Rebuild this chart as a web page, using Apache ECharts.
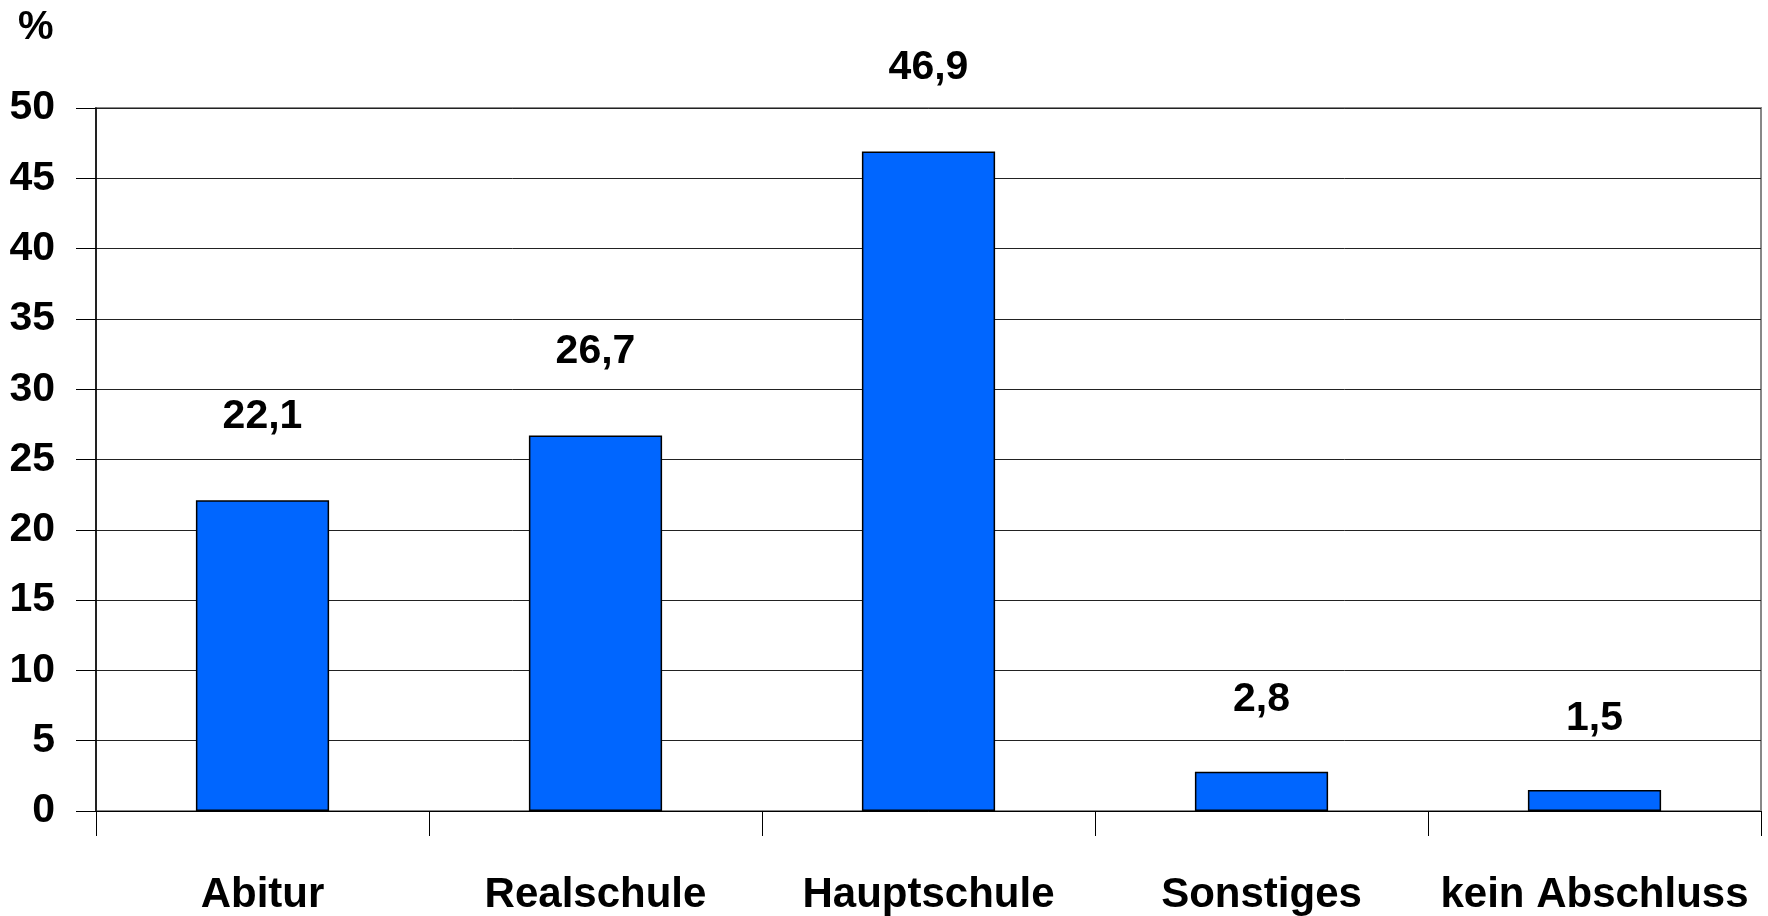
<!DOCTYPE html>
<html>
<head>
<meta charset="utf-8">
<script src="https://cdn.jsdelivr.net/npm/echarts@6/dist/echarts.min.js"></script>
<style>
html,body{margin:0;padding:0;background:#fff;}
#c{width:1768px;height:916px;}
</style>
</head>
<body>
<div id="c"></div>
<script>
const categories = ['Abitur', 'Realschule', 'Hauptschule', 'Sonstiges', 'kein Abschluss'];
const values = [22.1, 26.7, 46.9, 2.8, 1.5];
const unitLabel = '%';

// label gap above each bar (styling only)
const labelGaps = [63, 63, 63, 51, 51];

const FONT = '"Liberation Sans", Arial, sans-serif';
const FS = 41;
const chart = echarts.init(document.getElementById('c'));
chart.setOption({
  animation: false,
  backgroundColor: '#ffffff',
  grid: {left: 96, right: 7, top: 108, bottom: 104, show: true, borderColor: '#888888', borderWidth: 2, backgroundColor: 'transparent'},
  graphic: [{
    type: 'text', left: 18, top: 8,
    style: {text: unitLabel, font: 'bold 40px ' + FONT, fill: '#000'}
  }],
  xAxis: {
    type: 'category',
    data: categories,
    axisLine: {lineStyle: {color: '#000', width: 1}},
    axisTick: {show: true, interval: 0, length: 25, lineStyle: {color: '#000', width: 1}},
    axisLabel: {interval: 0, margin: 63, color: '#000', fontSize: 42, fontWeight: 'bold', fontFamily: FONT}
  },
  yAxis: {
    type: 'value', min: 0, max: 50, interval: 5,
    axisLine: {show: true, lineStyle: {color: '#000', width: 1.5}},
    axisTick: {show: true, length: 20, lineStyle: {color: '#000', width: 1}},
    axisLabel: {margin: 41, color: '#000', fontSize: FS, fontWeight: 'bold', fontFamily: FONT},
    splitLine: {show: true, lineStyle: {color: '#222', width: 1}}
  },
  series: [{
    type: 'bar',
    data: values.map((v, i) => ({value: v, label: {distance: labelGaps[i]}})),
    barWidth: '40%',
    itemStyle: {color: '#0066FF', borderColor: '#000', borderWidth: 1.5},
    label: {
      show: true, position: 'top',
      color: '#000', fontSize: FS, fontWeight: 'bold', fontFamily: FONT,
      formatter: p => String(p.value).replace('.', ',')
    }
  }]
});
</script>
</body>
</html>
